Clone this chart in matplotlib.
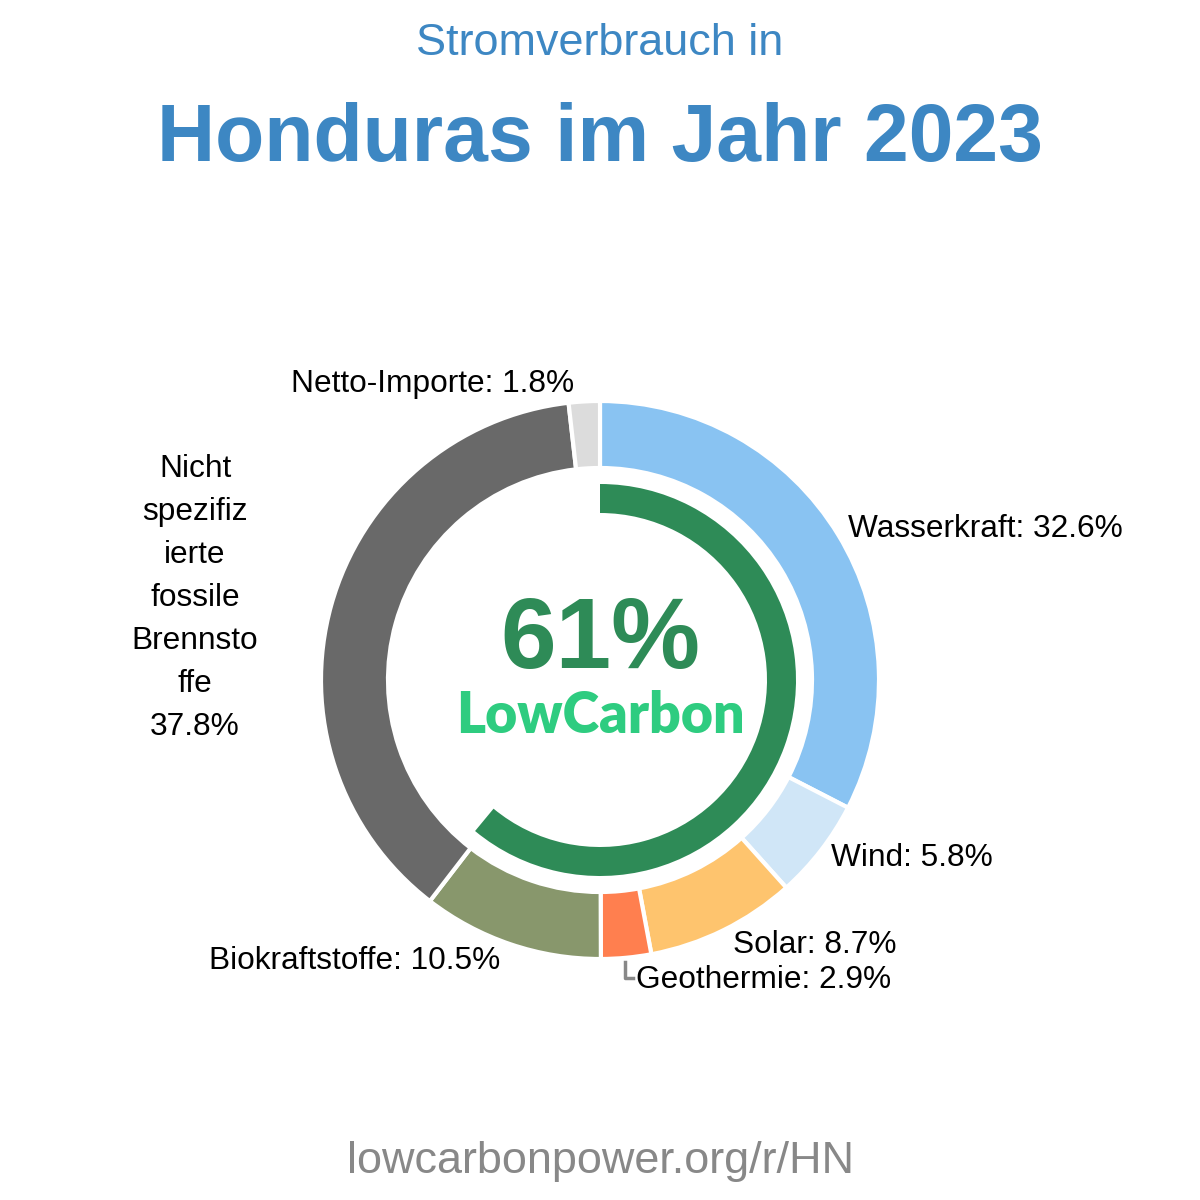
import matplotlib
matplotlib.use("Agg")
import matplotlib.pyplot as plt
from matplotlib.patches import Wedge

# ---- data ----
categories = ["Wasserkraft", "Wind", "Solar", "Geothermie", "Biokraftstoffe",
              "Nicht spezifizierte fossile Brennstoffe", "Netto-Importe"]
values = [32.6, 5.8, 8.7, 2.9, 10.5, 37.8, 1.8]
low_carbon_share = 61
title_line1 = "Stromverbrauch in"
title_line2 = "Honduras im Jahr 2023"
footer = "lowcarbonpower.org/r/HN"

# ---- styles ----
colors = ["#89c3f2", "#d0e6f7", "#fec46e", "#ff7f4f", "#88976c", "#696969", "#dcdcdc"]
green = "#2e8b57"
lc_green = "#2ecc80"
title_color = "#3d87c3"

plt.rcParams['font.family'] = ['Liberation Sans', 'DejaVu Sans']

W = H = 1200
fig = plt.figure(figsize=(12, 12), dpi=100)
ax = fig.add_axes([0, 0, 1, 1])

def Y(py):
    return H - py

cx, cy = 600, Y(680)
R_out, R_w = 279, 67

ax.pie(values, colors=colors, startangle=90, counterclock=False,
       radius=R_out, center=(cx, cy), normalize=True,
       wedgeprops=dict(width=R_w, edgecolor="white", linewidth=3), frame=True)
ax.set_xlim(0, W)
ax.set_ylim(0, H)
ax.axis("off")

# inner low-carbon arc
ax.add_patch(Wedge((cx, cy), 196, 90 - 360 * low_carbon_share / 100, 90,
                   width=29, facecolor=green, edgecolor="none"))

ax.text(cx, Y(668), f"{low_carbon_share}%", ha="center", va="baseline",
        fontsize=72, fontweight="bold", color=green)
ax.text(cx, Y(733), "LowCarbon", ha="center", va="baseline",
        fontsize=40, fontweight="heavy", color=lc_green, family=["Lato", "DejaVu Sans"])

# titles
ax.text(600, Y(55), title_line1, ha="center", va="baseline", fontsize=32.4, color=title_color)
ax.text(600, Y(161), title_line2, ha="center", va="baseline", fontsize=58,
        fontweight="bold", color=title_color)
ax.text(600, Y(1173), footer, ha="center", va="baseline", fontsize=32.4, color="#888888")

# labels
lab = [f"{c}: {v}%" for c, v in zip(categories, values)]
fs = 22.8
ax.text(848, Y(537), lab[0], ha="left", va="baseline", fontsize=fs)
ax.text(831, Y(866), lab[1], ha="left", va="baseline", fontsize=fs)
ax.text(733, Y(953), lab[2], ha="left", va="baseline", fontsize=fs)
ax.text(636, Y(988), lab[3], ha="left", va="baseline", fontsize=fs)
ax.plot([625, 625, 633], [Y(962), Y(978), Y(978)], color="#888888", lw=2.5)
ax.text(500, Y(969), lab[4], ha="right", va="baseline", fontsize=fs)
fossil_lines = ["Nicht", "spezifiz", "ierte", "fossile", "Brennsto", "ffe", f"{values[5]}%"]
for i, t in enumerate(fossil_lines):
    ax.text(195, Y(477 + i * 43), t, ha="center", va="baseline", fontsize=fs)
ax.text(433, Y(392), lab[6], ha="center", va="baseline", fontsize=fs)

fig.savefig("out.png", dpi=100, facecolor="white")
